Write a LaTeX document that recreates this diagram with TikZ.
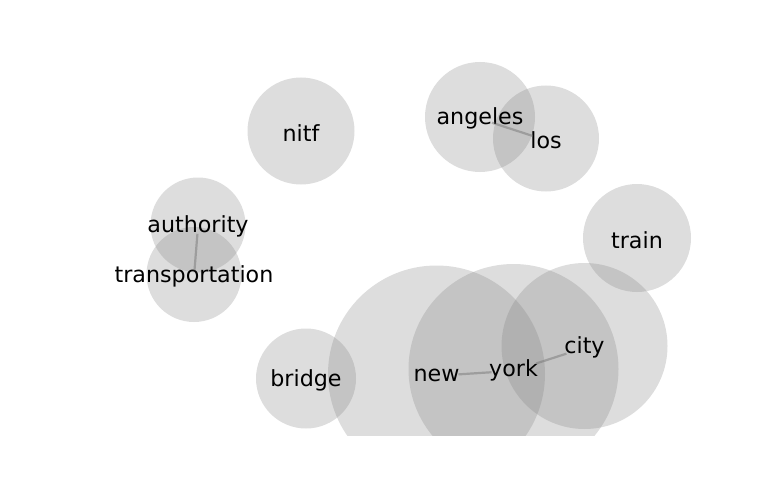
\documentclass[tikz,border=0pt]{standalone}
\usepackage{fontspec}
\setmainfont{DejaVu Sans}
\begin{document}
\begin{tikzpicture}[x=1pt,y=-1pt,
  bub/.style={fill={rgb,255:red,128;green,128;blue,128},fill opacity=0.27,draw=none},
  word/.style={inner sep=0pt,yshift=-1.8pt,font=\fontsize{22.2}{26}\selectfont},
  edge/.style={draw={rgb,255:red,110;green,110;blue,110},opacity=0.45,line width=2.2pt}]
\useasboundingbox (0,0) rectangle (768,500);
\begin{scope}
\clip (0,0) rectangle (768,435.7);
\fill[bub] (301,131) circle (53.5);
\fill[bub] (480,117) circle (55);
\fill[bub] (546,138.5) circle (53);
\fill[bub] (637,238) circle (54);
\fill[bub] (198,225) circle (47.5);
\fill[bub] (194,274.5) circle (47.5);
\fill[bub] (306,378.5) circle (50);
\fill[bub] (436.5,374) circle (108.5);
\fill[bub] (513.5,369) circle (105);
\fill[bub] (584.5,346) circle (83);
\end{scope}
\node[word] (nitf) at (301,131) {nitf};
\node[word] (angeles) at (480,117) {angeles};
\node[word] (los) at (546,138.5) {los};
\node[word] (train) at (637,238) {train};
\node[word] (authority) at (198,225) {authority};
\node[word] (transportation) at (194,274.5) {transportation};
\node[word] (bridge) at (306,378.5) {bridge};
\node[word] (new) at (436.5,374) {new};
\node[word] (york) at (513.5,369) {york};
\node[word] (city) at (584.5,346) {city};
\draw[edge,shorten <=22pt,shorten >=22pt] (new.center) -- (york.center);
\draw[edge,shorten <=24pt,shorten >=19pt] (york.center) -- (city.center);
\draw[edge,shorten <=12.6pt,shorten >=14pt] (angeles.center) -- (los.center);
\draw[edge,shorten <=7pt,shorten >=6pt] (authority.center) -- (transportation.center);
\end{tikzpicture}
\end{document}
